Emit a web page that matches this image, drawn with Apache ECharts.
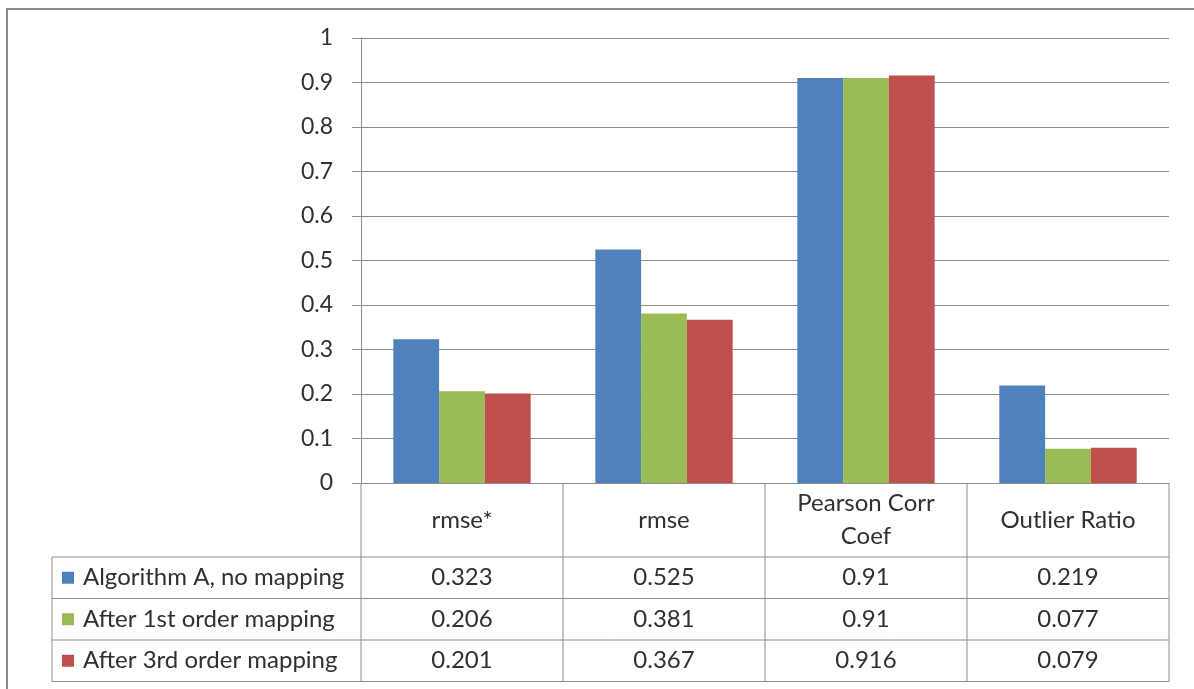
<!DOCTYPE html>
<html>
<head>
<meta charset="utf-8">
<title>Mapping comparison</title>
<script src="https://cdn.jsdelivr.net/npm/echarts@6/dist/echarts.min.js"></script>
<style>
  html, body { margin: 0; padding: 0; background: #ffffff; }
  #main { width: 1194px; height: 689px; }
</style>
</head>
<body>
<div id="main"></div>
<script>
// Metrics (columns) and the three result series
const categories = ['rmse*', 'rmse', 'Pearson Corr\nCoef', 'Outlier Ratio'];
const seriesNames = ['Algorithm A, no mapping', 'After 1st order mapping', 'After 3rd order mapping'];
const noMapping = [0.323, 0.525, 0.91, 0.219];
const firstOrder = [0.206, 0.381, 0.91, 0.077];
const thirdOrder = [0.201, 0.367, 0.916, 0.079];
const seriesColors = ['#4F81BD', '#9BBB59', '#C0504D'];

const seriesValues = [noMapping, firstOrder, thirdOrder];
const FONT = 'Lato, "Noto Sans", sans-serif';
const FONT_SIZE = 24;
const TEXT = '#303030';
const LINE = '#8e8e8e';

const GRID = { left: 361, right: 25, top: 38, bottom: 206 };

const chart = echarts.init(document.getElementById('main'), null, { renderer: 'canvas' });

chart.setOption({
  animation: false,
  grid: GRID,
  xAxis: {
    type: 'category',
    data: categories,
    axisLine: { lineStyle: { color: LINE, width: 1 } },
    axisTick: { show: false },
    axisLabel: { show: false }
  },
  yAxis: {
    type: 'value',
    min: 0,
    max: 1,
    interval: 0.1,
    axisLine: { show: true, lineStyle: { color: LINE, width: 1 } },
    axisTick: { show: true, length: 9, lineStyle: { color: LINE } },
    axisLabel: { margin: 28, fontSize: 23, color: TEXT, fontFamily: FONT },
    splitLine: { lineStyle: { color: LINE, width: 1 } }
  },
  series: seriesValues.map((vals, i) => ({
    name: seriesNames[i],
    type: 'bar',
    data: vals,
    barGap: '0%',
    barCategoryGap: '32%',
    itemStyle: { color: seriesColors[i] }
  }))
});

// Data table under the plot: header row with metric names, one row per series
function buildTable() {
  const width = chart.getWidth();
  const height = chart.getHeight();
  const x0 = GRID.left;
  const x1 = width - GRID.right;
  const yAxisBase = height - GRID.bottom;
  const catW = (x1 - x0) / categories.length;
  const headerBottom = yAxisBase + 74;
  const rowH = 41.5;
  const legendLeft = 52;
  const tableBottom = headerBottom + rowH * seriesNames.length;
  const font = FONT_SIZE + 'px ' + FONT;

  const els = [];
  const line = (xa, ya, xb, yb) => els.push({
    type: 'line', silent: true,
    shape: { x1: xa, y1: ya, x2: xb, y2: yb },
    style: { stroke: LINE, lineWidth: 1 }
  });

  // frame around the chart area
  els.push({
    type: 'rect', silent: true,
    shape: { x: 7, y: 9, width: width + 20, height: height + 20 },
    style: { fill: null, stroke: '#8a8a8a', lineWidth: 2 }
  });

  // column dividers
  for (let i = 0; i <= categories.length; i++) {
    const x = x0 + i * catW;
    line(x, yAxisBase, x, tableBottom);
  }
  line(legendLeft, headerBottom, legendLeft, tableBottom);

  // row dividers
  for (let r = 0; r <= seriesNames.length; r++) {
    const y = headerBottom + r * rowH;
    line(legendLeft, y, x1, y);
  }

  // header labels
  categories.forEach((name, i) => {
    const cx = chart.convertToPixel({ xAxisIndex: 0 }, i);
    els.push({
      type: 'text', silent: true,
      style: {
        x: cx, y: (yAxisBase + headerBottom) / 2,
        text: name, align: 'center', verticalAlign: 'middle',
        font: font, fill: TEXT, lineHeight: 33
      }
    });
  });

  // series rows: legend key, series name, values
  seriesNames.forEach((name, r) => {
    const cy = headerBottom + r * rowH + rowH / 2;
    els.push({
      type: 'rect', silent: true,
      shape: { x: 62, y: cy - 6, width: 12, height: 12 },
      style: { fill: seriesColors[r] }
    });
    els.push({
      type: 'text', silent: true,
      style: {
        x: 83, y: cy, text: name, align: 'left', verticalAlign: 'middle',
        font: font, fill: TEXT
      }
    });
    seriesValues[r].forEach((v, i) => {
      const cx = chart.convertToPixel({ xAxisIndex: 0 }, i);
      els.push({
        type: 'text', silent: true,
        style: {
          x: cx, y: cy, text: String(v), align: 'center', verticalAlign: 'middle',
          font: font, fill: TEXT
        }
      });
    });
  });

  chart.setOption({ graphic: { elements: els } });
}

buildTable();
</script>
</body>
</html>
